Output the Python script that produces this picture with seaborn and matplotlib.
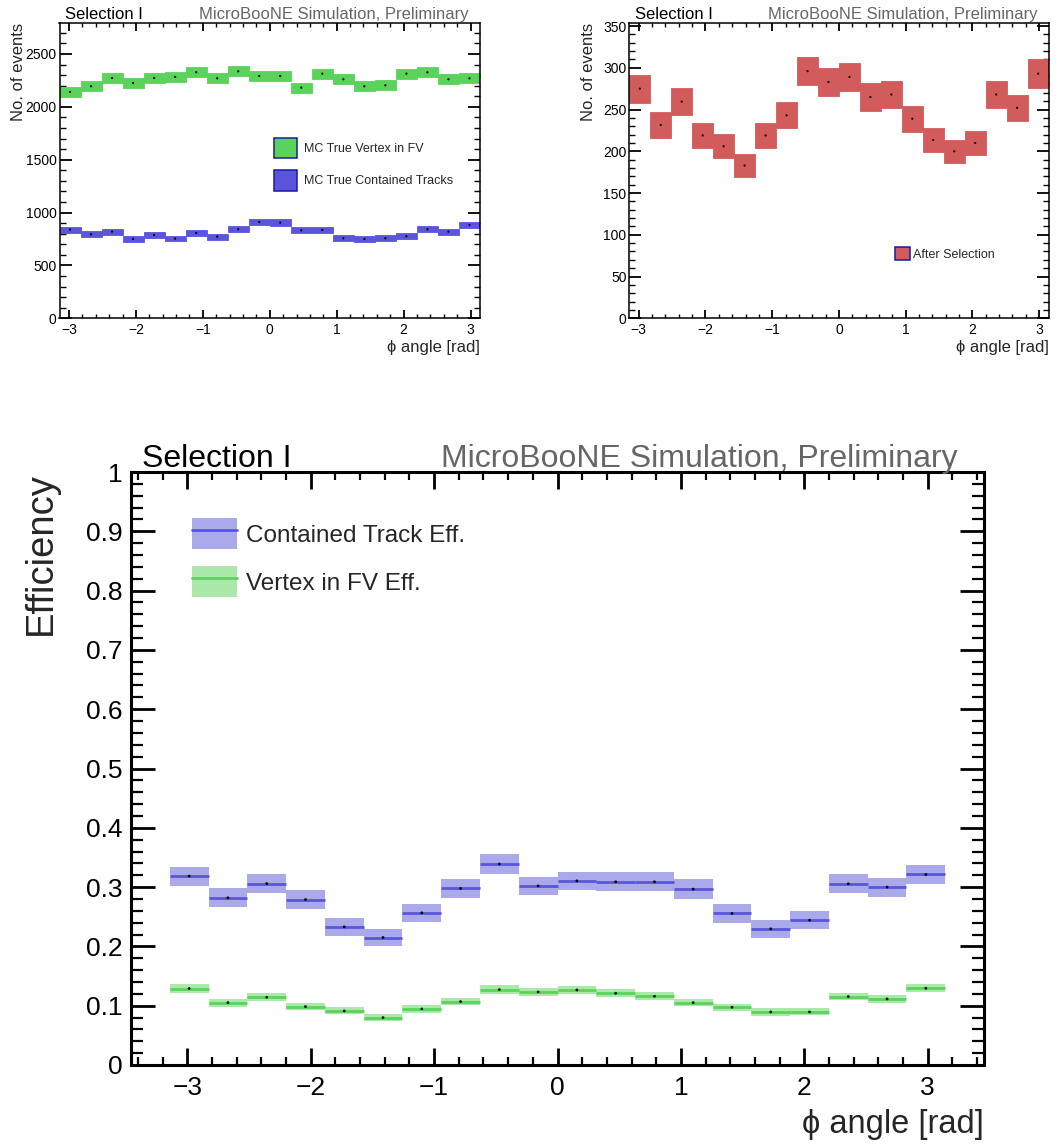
import numpy as np
import pandas as pd
import matplotlib
matplotlib.use("Agg")
import matplotlib.pyplot as plt
from matplotlib.ticker import MultipleLocator, FuncFormatter
from matplotlib.patches import Patch
from matplotlib.lines import Line2D
import seaborn as sns

# ---------------- data ----------------
n_bins = 20
phi_edges = np.linspace(-np.pi, np.pi, n_bins + 1)

vertex_fv = [2141, 2195, 2273, 2226, 2273, 2283, 2327, 2270, 2336, 2292,
             2292, 2182, 2314, 2261, 2195, 2204, 2314, 2327, 2261, 2270]
vertex_fv_err = [46.3, 46.9, 47.7, 47.2, 47.7, 47.8, 48.2, 47.6, 48.3, 47.9,
                 47.9, 46.7, 48.1, 47.5, 46.9, 46.9, 48.1, 48.2, 47.5, 47.6]

contained = [839, 795, 820, 750, 788, 754, 807, 773, 842, 911,
             905, 832, 836, 757, 750, 757, 776, 842, 820, 883]
contained_err = [29.0, 28.2, 28.6, 27.4, 28.1, 27.5, 28.4, 27.8, 29.0, 30.2,
                 30.1, 28.8, 28.9, 27.5, 27.4, 27.5, 27.9, 29.0, 28.6, 29.7]

selected = [275, 231.5, 259.5, 219, 206, 183, 219, 243, 296, 283,
            289, 265, 268, 239, 213.5, 200, 210, 268, 252, 293]
selected_err = [16.6, 15.2, 16.1, 14.8, 14.4, 13.5, 14.8, 15.6, 17.2, 16.8,
                17.0, 16.3, 16.4, 15.5, 14.6, 14.1, 14.5, 16.4, 15.9, 17.1]

eff_contained = [0.3185, 0.282, 0.306, 0.279, 0.233, 0.215, 0.2566, 0.2977, 0.339, 0.302,
                 0.3106, 0.309, 0.309, 0.2966, 0.2555, 0.2296, 0.2442, 0.3056, 0.300, 0.3213]
eff_contained_err = [0.0161, 0.0160, 0.0161, 0.0164, 0.0151, 0.0150, 0.0154, 0.0164, 0.0163, 0.0152,
                     0.0154, 0.0160, 0.0160, 0.0166, 0.0159, 0.0153, 0.0154, 0.0159, 0.0160, 0.0157]

eff_vertex = [0.1289, 0.1052, 0.1142, 0.0985, 0.0912, 0.0799, 0.0945, 0.1069, 0.1272, 0.1232,
              0.1266, 0.1210, 0.1159, 0.1052, 0.0974, 0.0895, 0.0895, 0.1154, 0.1114, 0.1294]
eff_vertex_err = [0.0072, 0.0066, 0.0067, 0.0063, 0.0060, 0.0057, 0.0061, 0.0065, 0.0069, 0.0069,
                  0.0069, 0.0070, 0.0067, 0.0065, 0.0063, 0.0061, 0.0059, 0.0066, 0.0066, 0.0070]

phi_centers = 0.5 * (phi_edges[:-1] + phi_edges[1:])
bin_w = np.diff(phi_edges)

df = pd.DataFrame({
    "phi": phi_centers,
    "vertex_fv": vertex_fv, "vertex_fv_err": vertex_fv_err,
    "contained": contained, "contained_err": contained_err,
    "selected": selected, "selected_err": selected_err,
    "eff_c": eff_contained, "eff_c_err": eff_contained_err,
    "eff_v": eff_vertex, "eff_v_err": eff_vertex_err,
})

# ---------------- style ----------------
sns.set_theme(style="ticks")
FAM = ["Liberation Sans", "DejaVu Sans"]
plt.rcParams.update({
    "font.family": FAM,
    "xtick.direction": "in", "ytick.direction": "in",
    "xtick.top": True, "ytick.right": True,
    "axes.edgecolor": "black",
    "xtick.color": "black", "ytick.color": "black",
    "axes.unicode_minus": True,
})

GREEN = "#5ad35a"
BLUE = "#5a55dc"
RED = "#d25c5c"
GREEN_BAND = "#aae9aa"
BLUE_BAND = "#aaaaeb"
GRAY = "#666666"

W, H = 1060, 1144
fig = plt.figure(figsize=(W / 100, H / 100), dpi=100)
ax1 = fig.add_axes([59.5 / W, 1 - 318.3 / H, 420.5 / W, 295.6 / H])
ax2 = fig.add_axes([629.3 / W, 1 - 318.3 / H, 419.3 / W, 295.6 / H])
ax3 = fig.add_axes([131 / W, 1 - 1065 / H, 853 / W, 593 / H])


def style_small(ax):
    for s in ax.spines.values():
        s.set_linewidth(1.1)
    ax.tick_params(axis="both", which="both", direction="in", top=True, right=True,
                   labelsize=10, colors="black")
    ax.tick_params(axis="x", which="major", length=5.8, width=1.3, pad=3.5)
    ax.tick_params(axis="x", which="minor", length=3.2, width=1.0)
    ax.tick_params(axis="y", which="major", length=8.6, width=1.3, pad=2)
    ax.tick_params(axis="y", which="minor", length=4.3, width=1.0)
    ax.xaxis.set_major_locator(MultipleLocator(1))
    ax.xaxis.set_minor_locator(MultipleLocator(0.2))
    ax.set_xlim(-np.pi, np.pi)


def boxes(ax, val, err, color):
    ax.bar(df["phi"], 2 * df[err], bottom=df[val] - df[err], width=bin_w,
           color=color, edgecolor=color, linewidth=0.6, align="center", zorder=2)
    sns.scatterplot(data=df, x="phi", y=val, ax=ax, color="black", s=2.5,
                    edgecolor="none", zorder=4, legend=False)


# ---------- top-left ----------
boxes(ax1, "vertex_fv", "vertex_fv_err", GREEN)
boxes(ax1, "contained", "contained_err", BLUE)
style_small(ax1)
ax1.set_ylim(0, 2796)
ax1.yaxis.set_major_locator(MultipleLocator(500))
ax1.yaxis.set_minor_locator(MultipleLocator(100))
h1 = [Patch(facecolor=GREEN, edgecolor="#1a1aa0", linewidth=1.1),
      Patch(facecolor=BLUE, edgecolor="#1a1aa0", linewidth=1.1)]
ax1.legend(h1, ["MC True Vertex in FV", "MC True Contained Tracks"],
           loc="upper left", bbox_to_anchor=(0.510, 0.6095), frameon=False,
           fontsize=9, handlelength=1.85, handleheight=2.1, handletextpad=0.55,
           labelspacing=0.97, borderpad=0, borderaxespad=0)

# ---------- top-right ----------
boxes(ax2, "selected", "selected_err", RED)
style_small(ax2)
ax2.set_ylim(0, 354)
ax2.yaxis.set_major_locator(MultipleLocator(50))
ax2.yaxis.set_minor_locator(MultipleLocator(10))
h2 = [Patch(facecolor=RED, edgecolor="#1a1aa0", linewidth=1.1)]
ax2.legend(h2, ["After Selection"], loc="upper left", bbox_to_anchor=(0.633, 0.240),
           frameon=False, fontsize=9, handlelength=1.22, handleheight=1.14,
           handletextpad=0.25, borderpad=0, borderaxespad=0)

for ax in (ax1, ax2):
    ax.set_xlabel("ϕ angle [rad]", fontsize=12, loc="right")
    ax.xaxis.set_label_coords(1.0, -0.072)
    ax.set_ylabel("No. of events", fontsize=12, loc="top")
    ax.yaxis.set_label_coords(-0.079, 1.0)
    ax.text(0.013, 1.011, "Selection I", transform=ax.transAxes, fontsize=12,
            ha="left", va="baseline", color="black")
    ax.text(0.974, 1.011, "MicroBooNE Simulation, Preliminary", transform=ax.transAxes,
            fontsize=12, ha="right", va="baseline", color=GRAY)

# ---------- bottom: efficiencies ----------
for val, err, band, line in (("eff_c", "eff_c_err", BLUE_BAND, BLUE),
                             ("eff_v", "eff_v_err", GREEN_BAND, GREEN)):
    ax3.bar(df["phi"], 2 * df[err], bottom=df[val] - df[err], width=bin_w,
            color=band, edgecolor="none", linewidth=0, zorder=2)
    ax3.hlines(df[val], df["phi"] - bin_w / 2, df["phi"] + bin_w / 2,
               colors=line, linewidth=2.0, zorder=3)
    sns.scatterplot(data=df, x="phi", y=val, ax=ax3, color="black", s=4,
                    edgecolor="none", zorder=4, legend=False)

ax3.set_xlim(-1.1 * np.pi, 1.1 * np.pi)
ax3.set_ylim(0, 1)
for s in ax3.spines.values():
    s.set_linewidth(2.2)
ax3.tick_params(axis="both", which="both", direction="in", top=True, right=True,
                labelsize=19, colors="black")
ax3.tick_params(axis="x", which="major", length=12.2, width=2.0, pad=8)
ax3.tick_params(axis="x", which="minor", length=6.0, width=1.6)
ax3.tick_params(axis="y", which="major", length=17, width=2.0, pad=6)
ax3.tick_params(axis="y", which="minor", length=8.6, width=1.6)
ax3.xaxis.set_major_locator(MultipleLocator(1))
ax3.xaxis.set_minor_locator(MultipleLocator(0.2))
ax3.yaxis.set_major_locator(MultipleLocator(0.1))
ax3.yaxis.set_minor_locator(MultipleLocator(0.02))
ax3.yaxis.set_major_formatter(FuncFormatter(lambda v, p: f"{v:g}"))

ax3.set_xlabel("ϕ angle [rad]", fontsize=23.5, loc="right")
ax3.xaxis.set_label_coords(1.0, -0.075)
ax3.set_ylabel("Efficiency", fontsize=27.5, loc="top")
ax3.yaxis.set_label_coords(-0.085, 1.0)
ax3.text(0.0129, 1.0084, "Selection I", transform=ax3.transAxes, fontsize=23,
         ha="left", va="baseline", color="black")
ax3.text(0.9695, 1.0084, "MicroBooNE Simulation, Preliminary", transform=ax3.transAxes,
         fontsize=23, ha="right", va="baseline", color=GRAY)

h3 = [(Patch(facecolor=BLUE_BAND, edgecolor="none"), Line2D([], [], color=BLUE, lw=2.0)),
      (Patch(facecolor=GREEN_BAND, edgecolor="none"), Line2D([], [], color=GREEN, lw=2.0))]
ax3.legend(h3, ["Contained Track Eff.", "Vertex in FV Eff."], loc="upper left",
           bbox_to_anchor=(0.0715, 0.9224), frameon=False, fontsize=17.5,
           handlelength=1.84, handleheight=1.6, handletextpad=0.4,
           labelspacing=0.7, borderpad=0, borderaxespad=0)

fig.savefig("out.png", dpi=100)
